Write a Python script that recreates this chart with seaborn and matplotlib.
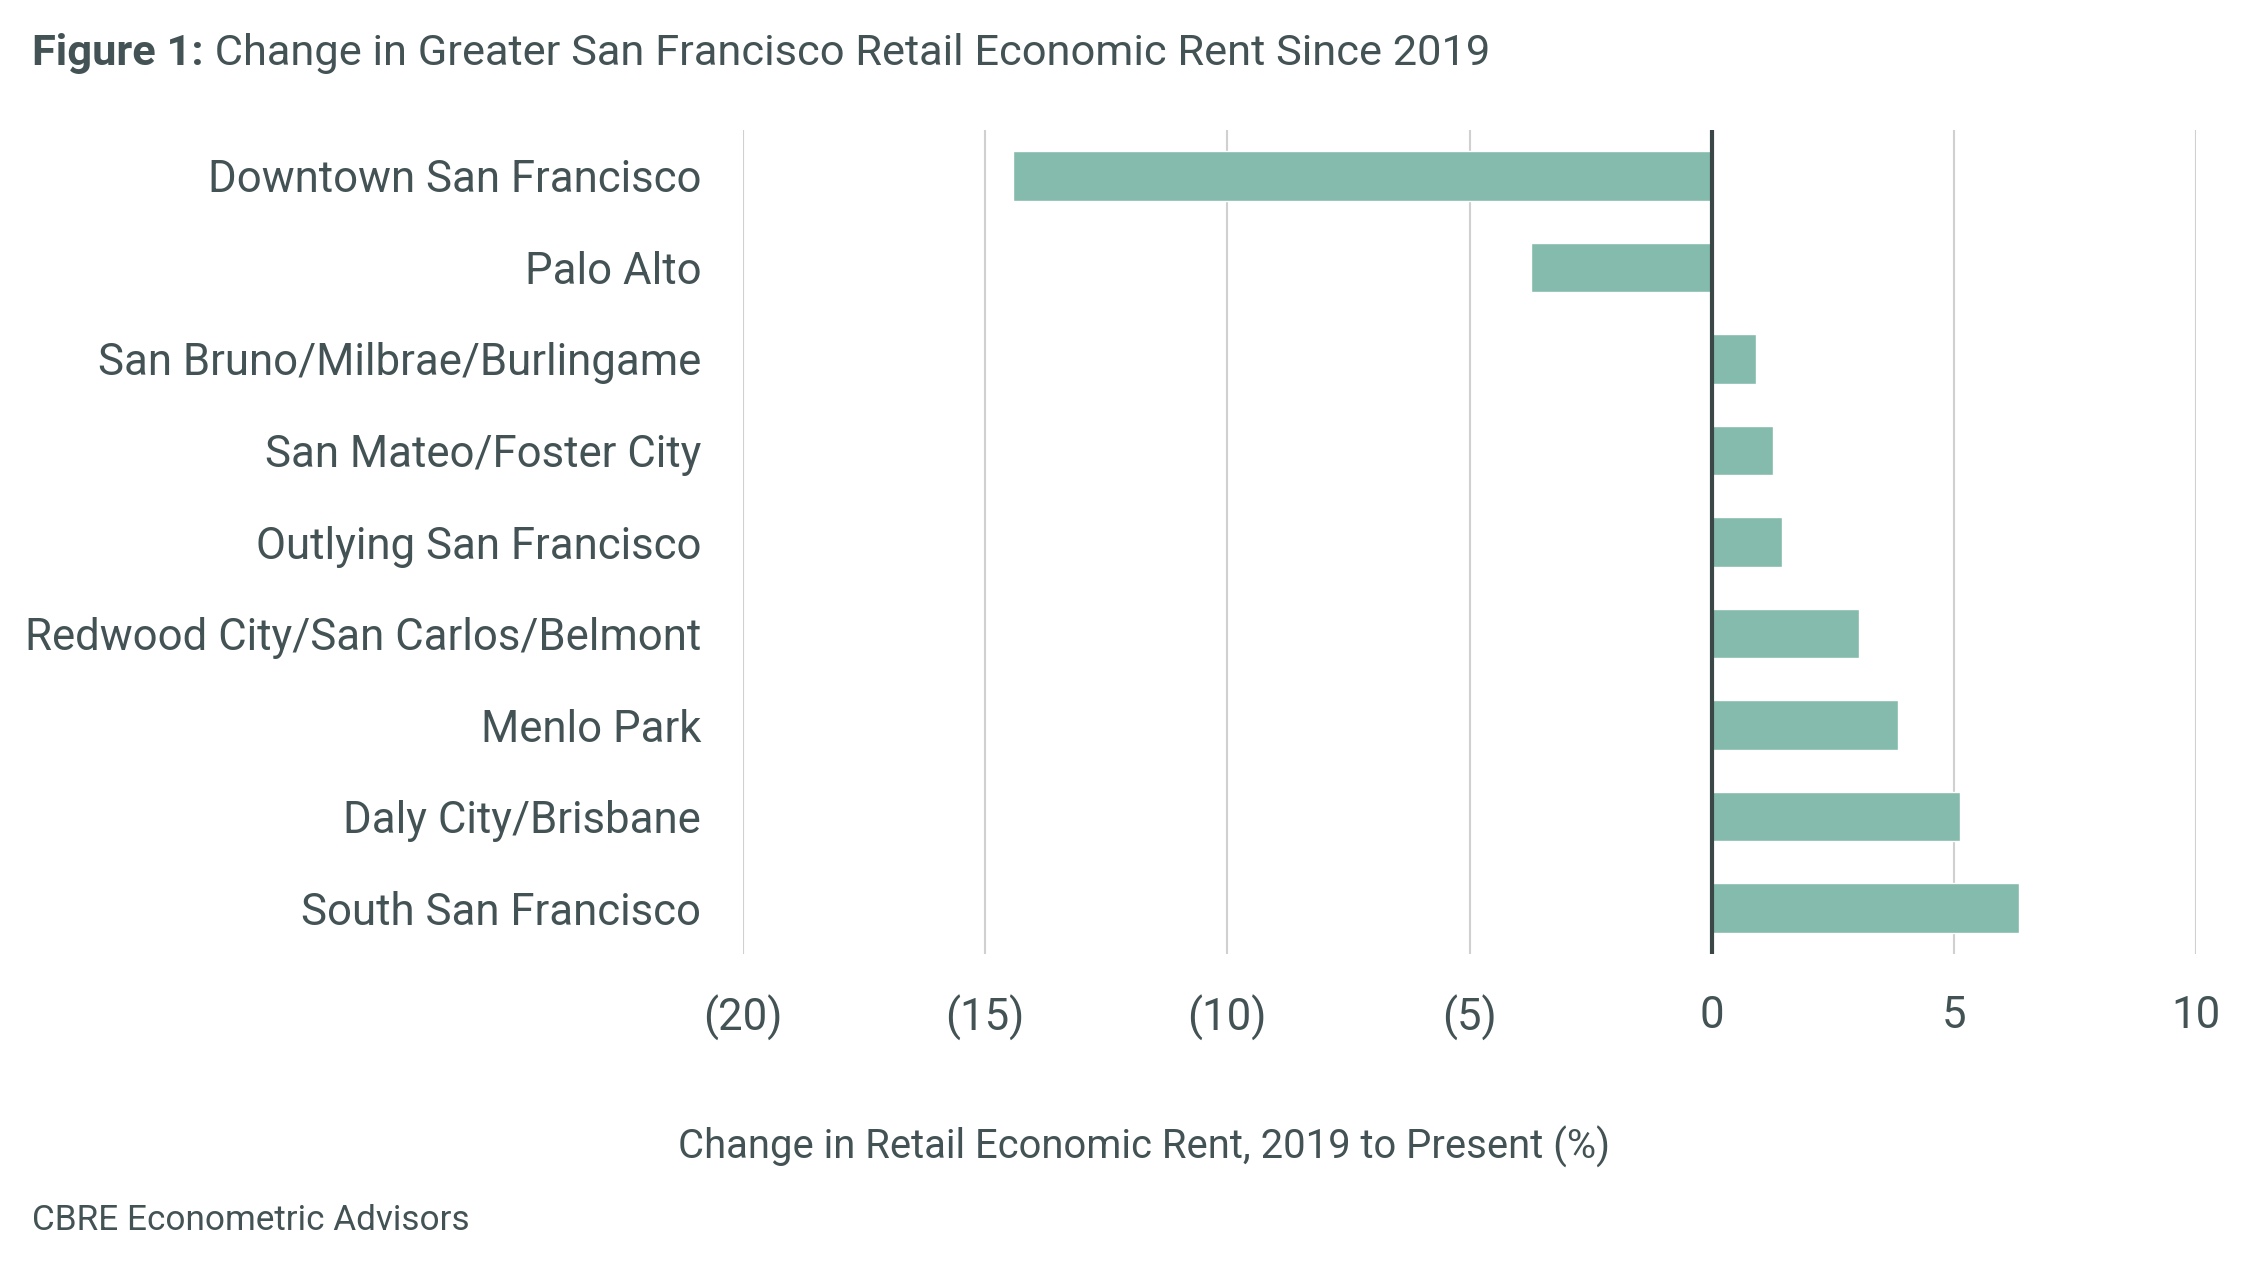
import matplotlib
matplotlib.use("Agg")
import matplotlib.pyplot as plt
import seaborn as sns
import pandas as pd

markets = [
    "Downtown San Francisco",
    "Palo Alto",
    "San Bruno/Milbrae/Burlingame",
    "San Mateo/Foster City",
    "Outlying San Francisco",
    "Redwood City/San Carlos/Belmont",
    "Menlo Park",
    "Daly City/Brisbane",
    "South San Francisco",
]
change_pct = [-14.42, -3.74, 0.92, 1.27, 1.45, 3.05, 3.85, 5.13, 6.35]
xticks = [-20, -15, -10, -5, 0, 5, 10]
xtick_labels = ["(20)", "(15)", "(10)", "(5)", "0", "5", "10"]

title_bold = "Figure 1:"
title_rest = " Change in Greater San Francisco Retail Economic Rent Since 2019"
xlabel = "Change in Retail Economic Rent, 2019 to Present (%)"
source = "CBRE Econometric Advisors"

df = pd.DataFrame({"market": markets, "change": change_pct})

sns.set_theme(style="white")
FONT = ["Roboto", "DejaVu Sans"]
plt.rcParams["font.family"] = FONT
TXT = "#435254"
BAR = "#84BBAC"

fig = plt.figure(figsize=(22.58, 12.64), dpi=100)
ax = fig.add_axes([0.329, 0.2454, 0.6436, 0.6516])

sns.barplot(data=df, x="change", y="market", orient="h", color=BAR,
            width=0.54, saturation=1, ax=ax, zorder=3)

ax.set_xlim(-20, 10)
ax.set_ylim(8.5, -0.5)
ax.set_xticks(xticks)
ax.set_xticklabels(xtick_labels)
ax.grid(axis="x", color="#d0d0d0", linewidth=1.5, zorder=0)
ax.grid(axis="y", visible=False)
ax.axvline(0, color="#3b4747", linewidth=3, zorder=4)
for s in ax.spines.values():
    s.set_visible(False)
ax.tick_params(axis="both", length=0, labelsize=31.5, colors=TXT)
ax.tick_params(axis="x", pad=30)
ax.tick_params(axis="y", pad=30)
ax.set_xlabel("")
ax.set_ylabel("")

fig.text(0.5065, 0.0924, xlabel, ha="center", va="center", fontsize=28.8, color=TXT)
fig.text(0.0142, 0.0344, source, ha="left", va="center", fontsize=25.3, color=TXT)

t1 = fig.text(0.0142, 0.958, title_bold, ha="left", va="center", fontsize=31.2,
              fontweight="bold", color=TXT)
fig.canvas.draw()
bb = t1.get_window_extent(renderer=fig.canvas.get_renderer())
x_end = bb.x1 / fig.bbox.width
fig.text(x_end, 0.958, title_rest, ha="left", va="center", fontsize=31.2, color=TXT)

fig.savefig("out.png", dpi=100, facecolor="white")
